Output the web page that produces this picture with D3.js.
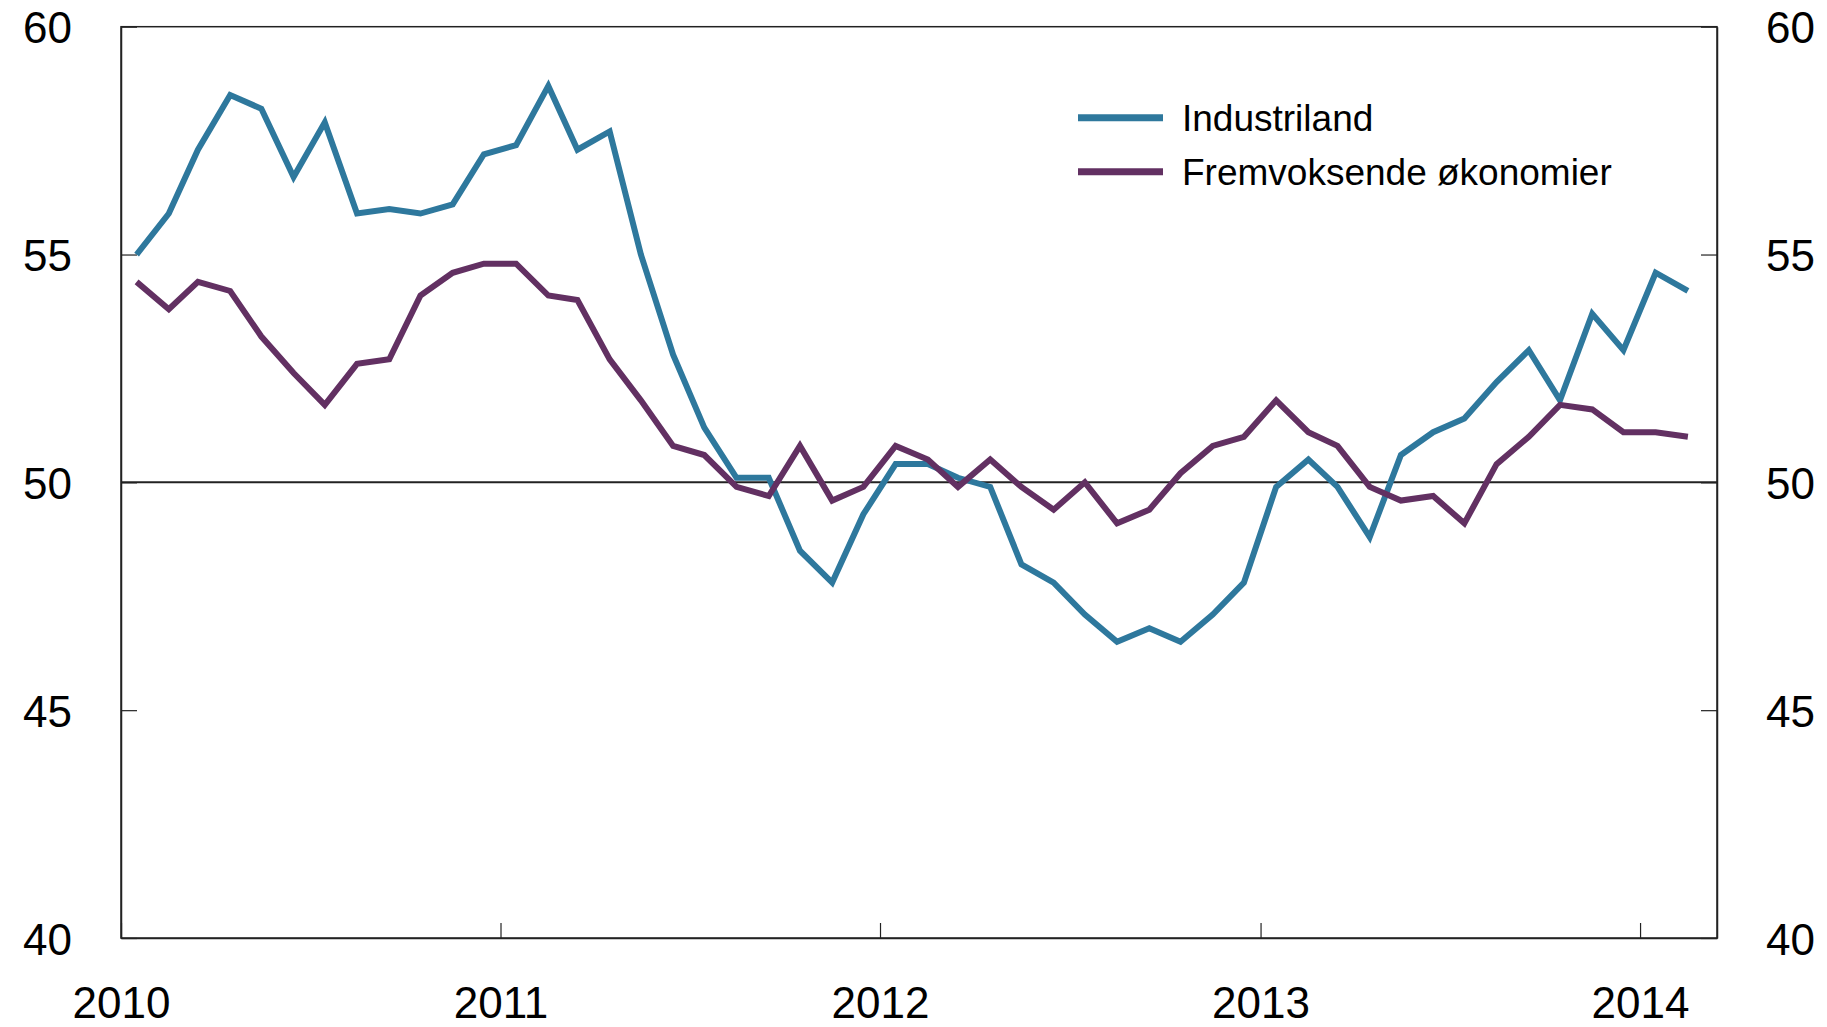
<!DOCTYPE html>
<html>
<head>
<meta charset="utf-8">
<script src="https://cdn.jsdelivr.net/npm/d3@7"></script>
<style>
  body { margin: 0; background: #fff; }
  text { font-family: "Liberation Sans", Arial, Helvetica, sans-serif; fill: #000; }
</style>
</head>
<body>
<div id="viz-container"></div>
<script>
// monthly PMI, Jan 2010 - Feb 2014
let seriesNames = ["Industriland", "Fremvoksende økonomier"];
let seriesColors = ["#2e789d", "#623062"];

let industriland = [
  55.0, 55.9, 57.3, 58.5, 58.2, 56.7, 57.9, 55.9, 56.0, 55.9, 56.1, 57.2,
  57.4, 58.7, 57.3, 57.7, 55.0, 52.8, 51.2, 50.1, 50.1, 48.5, 47.8, 49.3,
  50.4, 50.4, 50.1, 49.9, 48.2, 47.8, 47.1, 46.5, 46.8, 46.5, 47.1, 47.8,
  49.9, 50.5, 49.9, 48.8, 50.6, 51.1, 51.4, 52.2, 52.9, 51.8, 53.7, 52.9,
  54.6, 54.2
];
let fremvoksende = [
  54.4, 53.8, 54.4, 54.2, 53.2, 52.4, 51.7, 52.6, 52.7, 54.1, 54.6, 54.8,
  54.8, 54.1, 54.0, 52.7, 51.8, 50.8, 50.6, 49.9, 49.7, 50.8, 49.6, 49.9,
  50.8, 50.5, 49.9, 50.5, 49.9, 49.4, 50.0, 49.1, 49.4, 50.2, 50.8, 51.0,
  51.8, 51.1, 50.8, 49.9, 49.6, 49.7, 49.1, 50.4, 51.0, 51.7, 51.6, 51.1,
  51.1, 51.0
];
let yTicks = [40, 45, 50, 55, 60];
let xTicks = [2010, 2011, 2012, 2013, 2014];

let months = d3.timeMonth.range(new Date(2010, 0, 1), new Date(2014, 2, 1));

let W = 1827, H = 1027;
let padL = 121, padR = 1717, padT = 26.7, padB = 938;

let viz = d3.select("#viz-container")
  .append("svg")
    .attr("width", W)
    .attr("height", H)
;

let x = d3.scaleTime()
  .domain([new Date(2010, 0, 1), new Date(2014, 2, 16)])
  .range([padL, padR]);

let y = d3.scaleLinear()
  .domain([40, 60])
  .range([padB, padT]);

// box
viz.append("rect")
  .attr("x", padL).attr("y", padT)
  .attr("width", padR - padL).attr("height", padB - padT)
  .attr("fill", "none").attr("stroke", "#222").attr("stroke-width", 1.5);

// 50 line
viz.append("line")
  .attr("x1", padL).attr("x2", padR)
  .attr("y1", y(50)).attr("y2", y(50))
  .attr("stroke", "#222").attr("stroke-width", 2);

let yLeft = viz.append("g")
  .attr("transform", `translate(${padL},0)`)
  .call(d3.axisLeft(y).tickValues(yTicks).tickSize(-16).tickSizeOuter(0).tickPadding(49));

let yRight = viz.append("g")
  .attr("transform", `translate(${padR},0)`)
  .call(d3.axisRight(y).tickValues(yTicks).tickSize(-16).tickSizeOuter(0).tickPadding(49));

let xAxis = viz.append("g")
  .attr("transform", `translate(0,${padB})`)
  .call(d3.axisBottom(x)
    .tickValues(xTicks.map(d => new Date(d, 0, 1)))
    .tickFormat(d3.timeFormat("%Y"))
    .tickSize(-15).tickSizeOuter(0).tickPadding(49));

[yLeft, yRight, xAxis].forEach(g => {
  g.select(".domain").attr("stroke", "#222").attr("stroke-width", 1.5);
  g.selectAll(".tick line").attr("stroke", "#222").attr("stroke-width", 1.2);
  g.selectAll("text")
    .attr("font-size", 44)
    .attr("font-family", "'Liberation Sans', Arial, Helvetica, sans-serif")
    .attr("fill", "#000");
});
yLeft.selectAll("text").attr("dy", "0.37em");
yRight.selectAll("text").attr("dy", "0.37em");

let line = d3.line()
  .x((d, i) => x(d3.timeDay.offset(months[i], 15)))
  .y(d => y(d));

[industriland, fremvoksende].forEach((vals, k) => {
  viz.append("path")
    .datum(vals)
    .attr("d", line)
    .attr("fill", "none")
    .attr("stroke", seriesColors[k])
    .attr("stroke-width", 6)
    .attr("stroke-linejoin", "miter");
});

// legend
let legend = viz.append("g");
seriesNames.forEach((name, k) => {
  let ly = 117.7 + k * 54;
  legend.append("line")
    .attr("x1", 1078).attr("x2", 1163)
    .attr("y1", ly).attr("y2", ly)
    .attr("stroke", seriesColors[k])
    .attr("stroke-width", 7);
  legend.append("text")
    .attr("x", 1182).attr("y", ly + 13.5)
    .attr("font-size", 37)
    .text(name);
});
</script>
</body>
</html>
